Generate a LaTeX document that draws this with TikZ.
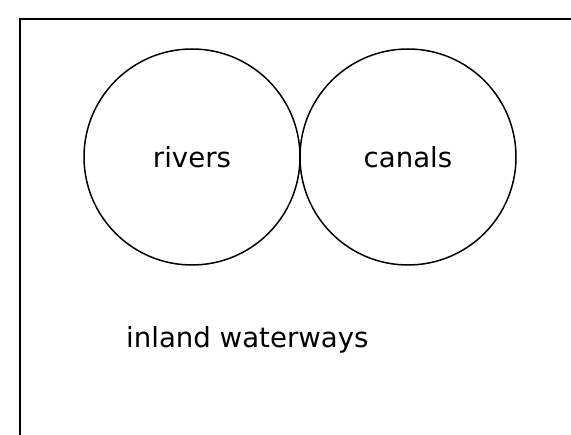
\documentclass[tikz,border=0pt]{standalone}
\usepackage{fontspec}
\setmainfont{DejaVu Sans}
\usepackage{tikz}
\usetikzlibrary{positioning}

\begin{document}
\begin{tikzpicture}[x=1pt,y=-1pt]
  \tikzset{
    frame/.style={line width=2.2pt,draw=black},
    waterset/.style={draw,circle,minimum size=216pt,inner sep=0pt,line width=1.5pt,
      font=\fontsize{27.6}{32}\selectfont},
    setname/.style={font=\fontsize{27.6}{32}\selectfont,inner sep=0pt,anchor=base west}
  }
  \useasboundingbox (0,0) rectangle (571,435);
  \draw[frame] (20,440) |- (580,19);
  \node[waterset] (rivers) at (192,157) {rivers};
  \node[waterset] (canals) at (408,157) {canals};
  \node[setname] (inland) at (126,348) {inland waterways};
\end{tikzpicture}
\end{document}
